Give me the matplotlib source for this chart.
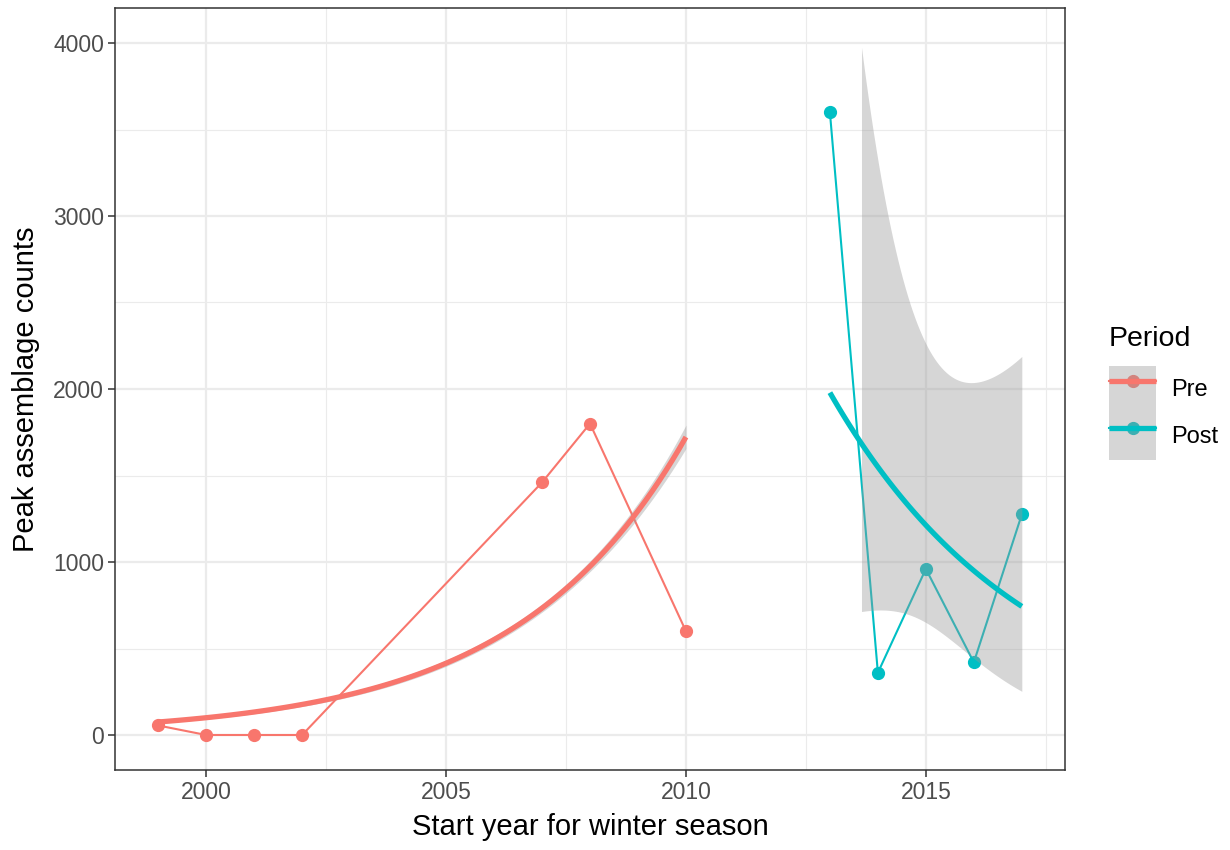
import math
import numpy as np
import matplotlib
matplotlib.use('Agg')
import matplotlib.pyplot as plt
from matplotlib.lines import Line2D
from matplotlib.patches import Patch

plt.rcParams['font.family'] = ['Liberation Sans', 'DejaVu Sans']

# data
pre_years = np.array([1999, 2000, 2001, 2002, 2007, 2008, 2010])
pre_counts = np.array([55, 0, 0, 0, 1460, 1800, 600])
post_years = np.array([2013, 2014, 2015, 2016, 2017])
post_counts = np.array([3600, 360, 960, 420, 1275])
periods = ['Pre', 'Post']
colours = {'Pre': '#F8766D', 'Post': '#00BFC4'}
y_max = 4000


def irls(X, y, theta=None, beta=None):
    # log-link glm; theta=None -> poisson, else negative binomial
    if beta is None:
        beta = np.array([np.log(y.mean()), 0.0])
    for _ in range(60):
        eta = X @ beta
        mu = np.exp(eta)
        w = mu if theta is None else mu / (1 + mu / theta)
        z = eta + (y - mu) / mu
        XtW = X.T * w
        beta = np.linalg.solve(XtW @ X, XtW @ z)
    mu = np.exp(X @ beta)
    w = mu if theta is None else mu / (1 + mu / theta)
    return beta, np.linalg.inv((X.T * w) @ X)


def nb_loglik(y, mu, theta):
    return sum(math.lgamma(yi + theta) - math.lgamma(theta) - math.lgamma(yi + 1)
               + theta * math.log(theta / (theta + m)) + yi * math.log(m / (theta + m))
               for yi, m in zip(y, mu))


def smooth(x, y, family='poisson', n=80):
    X = np.column_stack([np.ones(len(x)), x - x.mean()])
    beta, cov = irls(X, y)
    if family == 'nb':
        best = None
        for theta in np.logspace(-1, 2, 600):
            b, c = irls(X, y, theta, beta)
            ll = nb_loglik(y, np.exp(X @ b), theta)
            if best is None or ll > best[0]:
                best = (ll, b, c)
        beta, cov = best[1], best[2]
    gx = np.linspace(x.min(), x.max(), n)
    G = np.column_stack([np.ones(n), gx - x.mean()])
    eta = G @ beta
    se = np.sqrt(np.einsum('ij,jk,ik->i', G, cov, G))
    return gx, np.exp(eta), np.exp(eta - 1.96 * se), np.exp(eta + 1.96 * se)


fig = plt.figure(figsize=(12.3, 8.5), dpi=100)
ax = fig.add_axes([115 / 1230, 1 - 769.6 / 850, 950 / 1230, 761.2 / 850])

for name, xs, ys, fam in [('Pre', pre_years, pre_counts, 'poisson'),
                          ('Post', post_years, post_counts, 'nb')]:
    c = colours[name]
    ax.plot(xs, ys, color=c, lw=1.5, zorder=3)
    ax.plot(xs, ys, 'o', color=c, ms=8.5, zorder=3)
    gx, fit, lo, hi = smooth(xs.astype(float), ys.astype(float), fam)
    keep = (hi <= y_max) & (lo >= 0)
    ax.fill_between(gx[keep], lo[keep], hi[keep], color='#999999', alpha=0.4,
                    lw=0, zorder=4)
    ax.plot(gx, fit, color=c, lw=3.8, zorder=5, solid_capstyle='butt')

ax.set_xlim(1998.1, 2017.9)
ax.set_ylim(-200, 4200)
ax.set_xticks([2000, 2005, 2010, 2015])
ax.set_xticks([2002.5, 2007.5, 2012.5, 2017.5], minor=True)
ax.set_yticks([0, 1000, 2000, 3000, 4000])
ax.set_yticks([500, 1500, 2500, 3500], minor=True)
ax.grid(which='major', color='#EBEBEB', lw=1.6, zorder=0)
ax.grid(which='minor', color='#EBEBEB', lw=0.8, zorder=0)
ax.set_axisbelow(True)
ax.tick_params(which='major', length=5, width=1.1, color='#333333',
               labelcolor='#4D4D4D', labelsize=16.5, pad=3)
ax.tick_params(which='minor', length=0)
for s in ax.spines.values():
    s.set_color('#333333')
    s.set_linewidth(1.1)
ax.set_xlabel('Start year for winter season', fontsize=21, labelpad=7)
ax.set_ylabel('Peak assemblage counts', fontsize=21, labelpad=9)

handles = [(Line2D([], [], color=colours[p], lw=1.5, marker='o', ms=8.5),
            Patch(facecolor='#999999', alpha=0.4, edgecolor='none'),
            Line2D([], [], color=colours[p], lw=3.8, solid_capstyle='butt'))
           for p in periods]
leg = fig.legend(handles, periods, loc='upper left', bbox_to_anchor=(1109 / 1230, 1 - 326 / 850),
                 frameon=False, fontsize=17, title='Period', title_fontsize=20.5,
                 handlelength=2.0, handleheight=2.68, labelspacing=0, handletextpad=0.65,
                 borderpad=0, borderaxespad=0)
leg._legend_box.align = 'left'
leg._legend_box.sep = 10

fig.savefig('out.png', dpi=100)
